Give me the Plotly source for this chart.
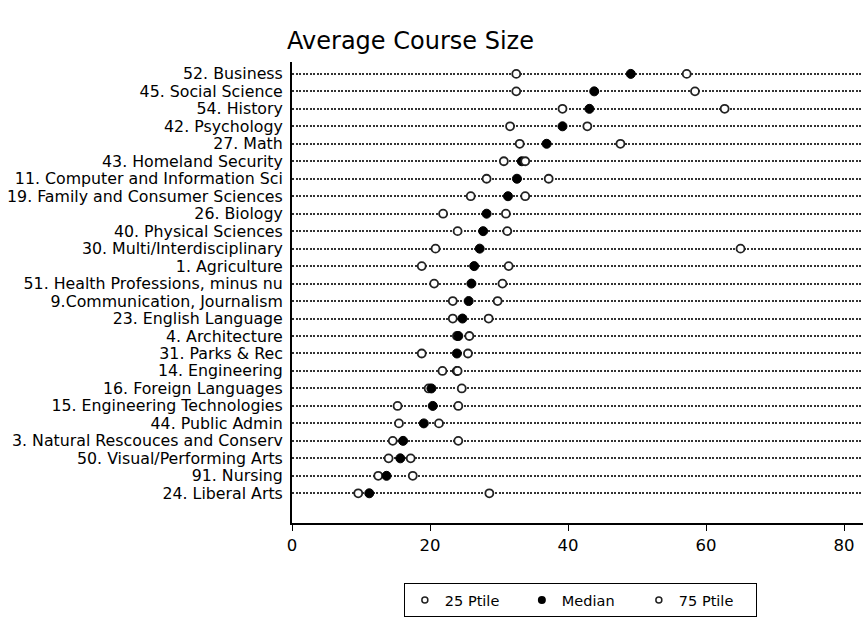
import plotly.graph_objects as go

categories = [
    "52. Business", "45. Social Science", "54. History", "42. Psychology", "27. Math",
    "43. Homeland Security", "11. Computer and Information Sci",
    "19. Family and Consumer Sciences", "26. Biology", "40. Physical Sciences",
    "30. Multi/Interdisciplinary", "1. Agriculture", "51. Health Professions, minus nu",
    "9.Communication, Journalism", "23. English Language", "4. Architecture",
    "31. Parks & Rec", "14. Engineering", "16. Foreign Languages",
    "15. Engineering Technologies", "44. Public Admin",
    "3. Natural Rescouces and Conserv", "50. Visual/Performing Arts", "91. Nursing",
    "24. Liberal Arts",
]
p25 = [32.5, 32.5, 39.2, 31.6, 33.0, 30.7, 28.2, 25.9, 21.9, 24.0, 20.8, 18.8, 20.6,
       23.3, 23.3, 23.9, 18.8, 21.8, 19.8, 15.3, 15.5, 14.6, 14.0, 12.5, 9.6]
median = [49.1, 43.8, 43.1, 39.2, 36.9, 33.3, 32.6, 31.3, 28.2, 27.7, 27.2, 26.4, 26.0,
          25.6, 24.7, 24.1, 23.9, 23.9, 20.2, 20.4, 19.1, 16.1, 15.7, 13.7, 11.2]
p75 = [57.2, 58.4, 62.7, 42.8, 47.6, 33.8, 37.2, 33.8, 31.0, 31.2, 65.0, 31.4, 30.5,
       29.8, 28.5, 25.7, 25.5, 24.0, 24.6, 24.1, 21.3, 24.1, 17.2, 17.5, 28.6]
x_ticks = [0, 20, 40, 60, 80]
x_max = 82.75

n = len(categories)
ypos = [n - 1 - i for i in range(n)]

FONT = "DejaVu Sans"
open_marker = dict(symbol="circle", size=8, color="white",
                   line=dict(color="#222", width=1.8))

fig = go.Figure()
fig.add_trace(go.Scatter(x=p25, y=ypos, mode="markers", name="25 Ptile",
                         marker=open_marker, showlegend=False))
fig.add_trace(go.Scatter(x=median, y=ypos, mode="markers", name="Median",
                         marker=dict(symbol="circle", size=9, color="black",
                                     line=dict(color="black", width=1)),
                         showlegend=False))
fig.add_trace(go.Scatter(x=p75, y=ypos, mode="markers", name="75 Ptile",
                         marker=open_marker, showlegend=False))

# legend-only entries (smaller symbols, as in the reference key)
leg_open = dict(symbol="circle", size=6, color="white", line=dict(color="#222", width=1.5))
fig.add_trace(go.Scatter(x=[None], y=[None], mode="markers", name="25 Ptile", marker=leg_open))
fig.add_trace(go.Scatter(x=[None], y=[None], mode="markers", name="Median",
                         marker=dict(symbol="circle", size=8, color="black")))
fig.add_trace(go.Scatter(x=[None], y=[None], mode="markers", name="75 Ptile", marker=leg_open))

fig.update_layout(
    width=863, height=617,
    margin=dict(l=292, r=0, t=62, b=90),
    paper_bgcolor="white", plot_bgcolor="white",
    font=dict(family=FONT, color="black"),
    title=dict(text="Average Course Size", x=410.5 / 863, xanchor="center",
               y=1 - 41 / 617, yanchor="middle", yref="container",
               font=dict(size=24, family=FONT, color="black")),
    xaxis=dict(range=[0, x_max], tickvals=x_ticks, ticks="outside", ticklen=6,
               tickwidth=1, tickcolor="black", showline=True, linecolor="black",
               linewidth=2, showgrid=False, zeroline=False,
               tickfont=dict(size=16.5, family=FONT)),
    yaxis=dict(range=[-1.7, n - 1 + 0.68], tickvals=ypos, ticktext=categories,
               ticks="", showline=True, linecolor="black", linewidth=2,
               showgrid=True, gridcolor="#333", gridwidth=2, griddash="2px,1.5px",
               zeroline=False, tickfont=dict(size=15.8, family=FONT),
               ticklabelstandoff=4),
    legend=dict(orientation="h", x=0.505, xanchor="center", y=-(588 - 527) / 465,
                yanchor="top", bordercolor="black", borderwidth=1,
                font=dict(size=14.5, family=FONT), entrywidth=72,
                itemsizing="trace"),
    showlegend=True,
)

fig.write_html("out.html")
